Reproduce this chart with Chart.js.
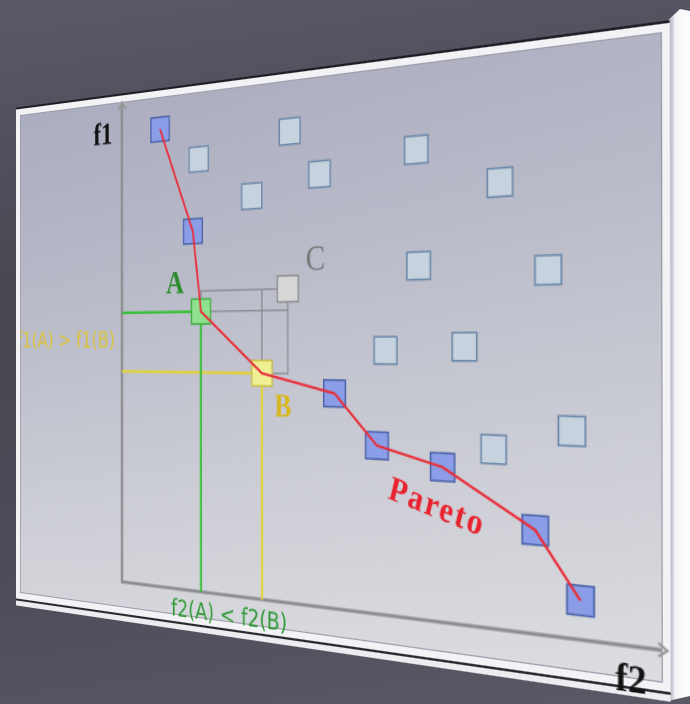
<!DOCTYPE html>
<html>
<head>
<meta charset="utf-8">
<script src="https://cdn.jsdelivr.net/npm/chart.js@4.4.1/dist/chart.umd.min.js"></script>
<style>
  html, body { margin: 0; padding: 0; }
  body {
    width: 690px; height: 704px; overflow: hidden; position: relative;
    background: linear-gradient(172deg, #5a5966 0%, #474651 38%, #4c4b57 70%, #595864 100%);
  }
  #side {
    position: absolute; left: 0; top: 0; width: 690px; height: 704px;
    background: linear-gradient(90deg, rgba(0,0,0,0) 664px, #a9abbb 666px, #c6c7d3 672px, #f4f4f7 675px, #ffffff 690px);
    clip-path: polygon(664px 24px, 680px 9px, 690px 11px, 690px 696px, 668px 701px, 664px 699px);
  }
  #board { position: absolute; left: 0; top: 0; transform-origin: 0 0; }
  #panel {
    position: absolute; box-sizing: border-box;
    border: 6px solid #f3f3f6;
    background: linear-gradient(172deg, #abadc0 0%, #b9bbc9 35%, #cfd0d7 75%, #dcdde0 100%);
    box-shadow: inset 0 0 0 1px #9c9caa, 0 -2px 0 #1f1e26, 0 2px 0 #2a2930, 0 7px 0 #ededf1;
  }
  canvas { position: absolute; left: 0; top: 0; }
</style>
</head>
<body>
<div id="side"></div>
<div id="board">
  <div id="panel"></div>
  <canvas id="paretoChart"></canvas>
</div>
<script>
// f2 runs along the horizontal axis, f1 up the vertical one (0..10 each)
const paretoF2 = [0.89, 1.63, 1.81, 3.11, 4.56, 5.36, 6.54, 8.09, 8.80];
const paretoF1 = [9.37, 7.24, 5.62, 4.40, 4.04, 3.10, 2.77, 1.78, 0.66];
const otherF2 = [3.68, 1.76, 6.08, 4.27, 2.90, 7.52, 6.12, 8.30, 5.52, 6.92, 7.41, 8.67];
const otherF1 = [9.05, 8.68, 8.48, 8.18, 7.86, 7.78, 6.38, 6.23, 4.85, 4.92, 3.13, 3.50];
const pointC = [3.64, 6.03];
const indexA = 2, indexB = 3;

// flat board size, frame width and canvas margin
const W = 680, H = 478, M = 6, G = 16;

const toXY = (xs, ys) => xs.map((x, i) => ({ x: x, y: ys[i] }));
const pareto = toXY(paretoF2, paretoF1);
const others = toXY(otherF2, otherF1);
const A = pareto[indexA], B = pareto[indexB];
const C = { x: pointC[0], y: pointC[1] };

const paretoFill = pareto.map((p, i) => i === indexA ? '#8fe08f' : i === indexB ? '#efef94' : '#8a9de6');
const paretoEdge = pareto.map((p, i) => i === indexA ? '#3fae3f' : i === indexB ? '#c9bd4c' : '#4b62a8');

function solve(A, b) {
  const n = b.length;
  for (let i = 0; i < n; i++) {
    let p = i;
    for (let r = i + 1; r < n; r++) if (Math.abs(A[r][i]) > Math.abs(A[p][i])) p = r;
    [A[i], A[p]] = [A[p], A[i]]; [b[i], b[p]] = [b[p], b[i]];
    for (let r = i + 1; r < n; r++) {
      const f = A[r][i] / A[i][i];
      for (let c = i; c < n; c++) A[r][c] -= f * A[i][c];
      b[r] -= f * b[i];
    }
  }
  const x = new Array(n);
  for (let i = n - 1; i >= 0; i--) {
    let s = b[i];
    for (let c = i + 1; c < n; c++) s -= A[i][c] * x[c];
    x[i] = s / A[i][i];
  }
  return x;
}

function perspective(src, dst) {
  const A = [], b = [];
  for (let i = 0; i < 4; i++) {
    const [x, y] = src[i], [u, v] = dst[i];
    A.push([x, y, 1, 0, 0, 0, -u * x, -u * y]); b.push(u);
    A.push([0, 0, 0, x, y, 1, -v * x, -v * y]); b.push(v);
  }
  const h = solve(A, b);
  return 'matrix3d(' + [h[0], h[3], 0, h[6], h[1], h[4], 0, h[7], 0, 0, 1, 0, h[2], h[5], 0, 1].join(',') + ')';
}

function setupBoard() {
  const board = document.getElementById('board');
  board.style.width = (W + 2 * G) + 'px';
  board.style.height = (H + 2 * G) + 'px';
  board.style.transform = perspective(
    [[G, G], [G + W, G], [G + W, G + H], [G, G + H]],
    [[20, 115], [662, 32], [663, 683], [20, 593]]
  );
  const panel = document.getElementById('panel');
  panel.style.left = (G - M) + 'px';
  panel.style.top = (G - M) + 'px';
  panel.style.width = (W + 2 * M) + 'px';
  panel.style.height = (H + 2 * M) + 'px';
}

const decorations = {
  id: 'decorations',
  afterDatasetsDraw(chart) {
    const { ctx, chartArea: a, scales: { x, y } } = chart;
    ctx.save();
    ctx.strokeStyle = '#9a9a9a';
    ctx.lineWidth = 2;
    ctx.beginPath();
    ctx.moveTo(a.left - 5, a.top + 6); ctx.lineTo(a.left, a.top - 1); ctx.lineTo(a.left + 5, a.top + 6);
    ctx.moveTo(a.right - 2, a.bottom - 5); ctx.lineTo(a.right + 5, a.bottom); ctx.lineTo(a.right - 2, a.bottom + 5);
    ctx.stroke();

    const put = (text, vx, vy, font, color, align, maxWidth) => {
      ctx.font = font;
      ctx.fillStyle = color;
      ctx.textAlign = align;
      ctx.textBaseline = 'middle';
      if (maxWidth) ctx.fillText(text, x.getPixelForValue(vx), y.getPixelForValue(vy), maxWidth);
      else ctx.fillText(text, x.getPixelForValue(vx), y.getPixelForValue(vy));
    };

    put('f1', -0.46, 9.35, 'bold 30px "Liberation Serif"', '#111111', 'center');
    put('f2', 9.56, -0.58, 'bold 30px "Liberation Serif"', '#111111', 'center');
    put('A', 1.23, 6.17, 'bold 30px "Liberation Serif"', '#2b8a2b', 'center');
    put('B', 3.54, 3.73, 'bold 28px "Liberation Serif"', '#d7b71e', 'center');
    put('C', 4.19, 6.56, '31px "Liberation Serif"', '#777777', 'center');
    put('f2(A) < f2(B)', 1.14, -0.43, '21px "DejaVu Sans"', '#2f9a36', 'left', 146);

    ctx.save();
    ctx.beginPath();
    ctx.rect(G, G, W, H);
    ctx.clip();
    put('f1(A) > f1(B)', -0.17, 5.02, '21px "DejaVu Sans"', '#d8c23c', 'right', 140);
    ctx.restore();

    ctx.translate(x.getPixelForValue(6.42), y.getPixelForValue(2.03));
    ctx.rotate(0.272);
    ctx.font = 'bold 29px "Liberation Serif"';
    ctx.letterSpacing = '2px';
    ctx.fillStyle = '#e8232f';
    ctx.textAlign = 'center';
    ctx.textBaseline = 'middle';
    ctx.fillText('Pareto', 0, 0);
    ctx.restore();
  }
};

function lineSet(data, color, width, order) {
  return {
    data: data, showLine: true, borderColor: color, borderWidth: width,
    pointRadius: 0, fill: false, order: order, clip: false
  };
}

function squareSet(data, fill, edge, order) {
  return {
    data: data, pointStyle: 'rect', pointRadius: 16,
    backgroundColor: fill, borderColor: edge, borderWidth: 1.5, order: order, clip: false
  };
}

function createChart() {
  const canvas = document.getElementById('paretoChart');
  canvas.width = W + 2 * G;
  canvas.height = H + 2 * G;
  canvas.style.width = (W + 2 * G) + 'px';
  canvas.style.height = (H + 2 * G) + 'px';
  const ctx = canvas.getContext('2d');
  new Chart(ctx, {
    type: 'scatter',
    data: {
      datasets: [
        lineSet(pareto, '#e8303c', 2.2, 0),
        squareSet(pareto, paretoFill, paretoEdge, 1),
        squareSet(others, '#c6d2dd', '#6b87a8', 1),
        squareSet([C], '#d7d7d7', '#8c8c8c', 1),
        lineSet([{ x: 0, y: A.y }, { x: A.x, y: A.y }, { x: A.x, y: 0 }], '#3cbf3c', 2.5, 2),
        lineSet([{ x: 0, y: B.y }, { x: B.x, y: B.y }, { x: B.x, y: 0 }], '#e2d23e', 2.5, 2),
        lineSet([A, { x: A.x, y: C.y }, C, { x: C.x, y: B.y }, B, { x: B.x, y: C.y }], 'rgba(125,125,130,0.75)', 1.5, 3),
        lineSet([A, { x: C.x, y: A.y }], 'rgba(125,125,130,0.75)', 1.5, 3)
      ]
    },
    options: {
      responsive: false,
      animation: false,
      devicePixelRatio: 2,
      layout: { padding: { left: G + 0.2046 * W, right: G, top: G, bottom: G + 0.05 * H } },
      plugins: { legend: { display: false }, tooltip: { enabled: false } },
      scales: {
        x: {
          type: 'linear', min: 0, max: 10,
          grid: { display: false, drawTicks: false },
          ticks: { display: false },
          border: { display: true, color: '#8e8e92', width: 3 }
        },
        y: {
          type: 'linear', min: 0, max: 10,
          grid: { display: false, drawTicks: false },
          ticks: { display: false },
          border: { display: true, color: '#8e8e92', width: 3 }
        }
      }
    },
    plugins: [decorations]
  });
}

document.addEventListener('DOMContentLoaded', () => {
  setupBoard();
  createChart();
});
</script>
</body>
</html>
